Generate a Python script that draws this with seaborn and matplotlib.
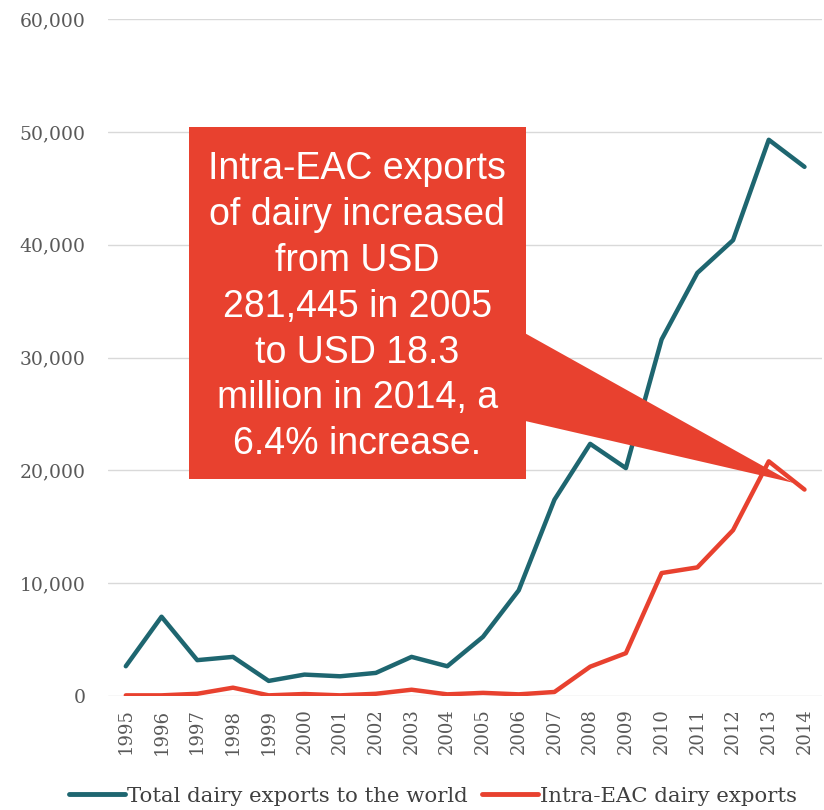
import matplotlib
matplotlib.use("Agg")
import matplotlib.pyplot as plt
from matplotlib.patches import Rectangle, Polygon
from matplotlib.ticker import FuncFormatter
import seaborn as sns
import pandas as pd

years = list(range(1995, 2015))
total_exports = [2640, 7030, 3180, 3470, 1340, 1900, 1750, 2050, 3470, 2640,
                 5250, 9370, 17400, 22350, 20200, 31600, 37500, 40400, 49300, 46900]
intra_eac = [60, 60, 200, 740, 60, 180, 60, 200, 560, 150,
             281, 150, 360, 2600, 3800, 10900, 11400, 14700, 20800, 18300]
series_names = ["Total dairy exports to the world", "Intra-EAC dairy exports"]
series_colors = ["#1E6670", "#E8412F"]
callout_text = ("Intra-EAC exports\nof dairy increased\nfrom USD\n281,445 in 2005\n"
                "to USD 18.3\nmillion in 2014, a\n6.4% increase.")

df = pd.DataFrame({
    "year": years * 2,
    "value": total_exports + intra_eac,
    "series": [series_names[0]] * len(years) + [series_names[1]] * len(years),
})

sns.set_theme(style="white")
plt.rcParams["font.family"] = ["DejaVu Serif"]

fig = plt.figure(figsize=(8.24, 8.10), dpi=100)
ax = fig.add_axes([0.131, 0.1407, 0.867, 0.8358])

sns.lineplot(data=df, x="year", y="value", hue="series", hue_order=series_names,
             palette=series_colors, linewidth=3.2, ax=ax, legend=True)

ax.set_xlim(1994.5, 2014.5)
ax.set_ylim(0, 60000)
ax.set_yticks(range(0, 60001, 10000))
ax.yaxis.set_major_formatter(FuncFormatter(lambda v, p: f"{int(v):,}"))
ax.set_xticks(years)
ax.set_xticklabels([str(y) for y in years], rotation=90)
ax.grid(axis="y", color="#D9D9D9", linewidth=1.0)
ax.set_axisbelow(True)
for s in ax.spines.values():
    s.set_visible(False)
ax.tick_params(axis="y", length=0, pad=16, labelsize=13.5, labelcolor="#595959")
ax.tick_params(axis="x", length=0, pad=9, labelsize=13, labelcolor="#595959")
ax.set_xlabel("")
ax.set_ylabel("")

# Callout box with pointer toward the 2014 intra-EAC value
red = series_colors[1]
ax.add_patch(Rectangle((1996.76, 19200), 9.44, 31200, facecolor=red,
                       edgecolor="none", zorder=5))
ax.add_patch(Polygon([(2006.15, 32200), (2006.15, 24400), (2013.68, 18900)],
                     closed=True, facecolor=red, edgecolor="none", zorder=5))
ax.text(1996.76 + 9.44 / 2, 19200 + 31200 / 2 - 300, callout_text, ha="center",
        va="center", color="white", fontsize=27, family=["Liberation Sans"],
        linespacing=1.35, zorder=6)

leg = ax.legend(loc="lower center", bbox_to_anchor=(0.455, -0.19), ncol=2,
                frameon=False, fontsize=15.3, handlelength=2.6, handletextpad=0.1,
                columnspacing=0.7)
for t in leg.get_texts():
    t.set_color("#404040")
for h in leg.get_lines():
    h.set_linewidth(3.5)

fig.savefig("out.png", dpi=100)
